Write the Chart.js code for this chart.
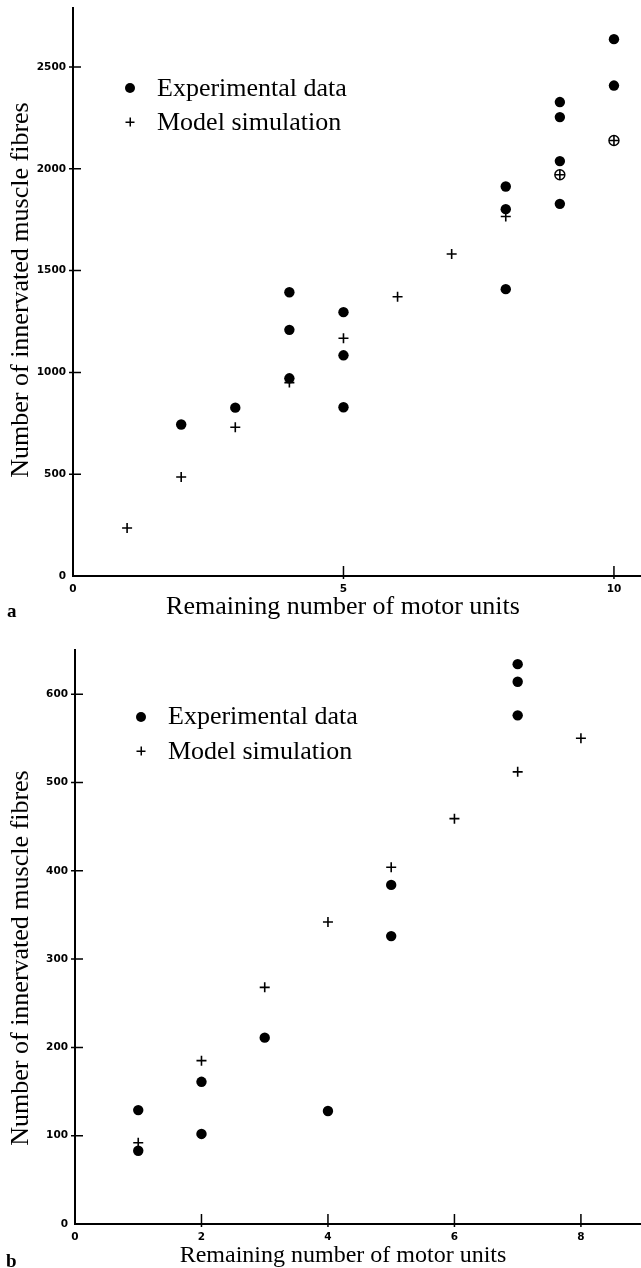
<!DOCTYPE html>
<html>
<head>
<meta charset="utf-8">
<title>Innervated muscle fibres vs remaining motor units</title>
<script src="https://cdn.jsdelivr.net/npm/chart.js@4.4.1/dist/chart.umd.min.js"></script>
<style>
  body { margin: 0; background: #fff; }
  #page { position: relative; width: 641px; height: 1268px; overflow: hidden; color: #000;
          font-family: "Liberation Serif", "Times New Roman", serif; }
  canvas { position: absolute; left: 0; }
  .txt { position: absolute; white-space: nowrap; font-size: 26px; line-height: 26px; }
  .xtitle { transform: translateX(-50%); }
  .ytitle { transform: translate(-50%, -50%) rotate(-90deg); }
  .panel { position: absolute; font-weight: bold; font-size: 19px; line-height: 19px; }
  .dot { position: absolute; width: 10px; height: 10px; border-radius: 50%; background: #000;
         transform: translate(-50%, -50%); }
  .plus { position: absolute; width: 9px; height: 9px; transform: translate(-50%, -50%);
          background: linear-gradient(#000, #000) center / 1.5px 100% no-repeat,
                      linear-gradient(#000, #000) center / 100% 1.5px no-repeat; }
</style>
</head>
<body>
<div id="page">
  <canvas id="chartA" width="641" height="628" style="top:0"></canvas>
  <canvas id="chartB" width="641" height="640" style="top:628px"></canvas>

  <!-- panel a -->
  <div class="dot" style="left:130px; top:88px"></div>
  <div class="txt" style="left:157px; top:75px">Experimental data</div>
  <div class="plus" style="left:130px; top:122px"></div>
  <div class="txt" style="left:157px; top:109px">Model simulation</div>
  <div class="txt ytitle" style="left:20px; top:290px">Number of innervated muscle fibres</div>
  <div class="txt xtitle" style="left:343px; top:593px">Remaining number of motor units</div>
  <div class="panel" style="left:7px; top:601px">a</div>

  <!-- panel b -->
  <div class="dot" style="left:141px; top:717px"></div>
  <div class="txt" style="left:168px; top:703px">Experimental data</div>
  <div class="plus" style="left:141px; top:751px"></div>
  <div class="txt" style="left:168px; top:738px">Model simulation</div>
  <div class="txt ytitle" style="left:20px; top:958px">Number of innervated muscle fibres</div>
  <div class="txt xtitle" style="left:343px; top:1242px; font-size:24px; line-height:24px">Remaining number of motor units</div>
  <div class="panel" style="left:6px; top:1251px">b</div>
</div>

<script>
// Panel a
const modelXA = [1, 2, 3, 4, 5, 6, 7, 8, 9, 10];
const modelYA = [236, 486, 731, 950, 1168, 1372, 1582, 1766, 1971, 2139];
const expXA = [2, 3, 4, 4, 4, 5, 5, 5, 8, 8, 8, 9, 9, 9, 9, 10, 10];
const expYA = [744, 827, 1394, 1209, 971, 1296, 1084, 829, 1913, 1802, 1409, 2328, 2254, 2038, 1828, 2637, 2409];
// experimental points that sit on a model point (printed as open circles)
const sharedXA = [9, 10];
const sharedYA = [1971, 2139];
const xTicksA = [0, 5, 10];
const yTicksA = [0, 500, 1000, 1500, 2000, 2500];

// Panel b
const modelXB = [1, 2, 3, 4, 5, 6, 7, 8];
const modelYB = [92, 185, 268, 342, 404, 459, 512, 550];
const expXB = [1, 1, 2, 2, 3, 4, 5, 5, 7, 7, 7];
const expYB = [129, 83, 161, 102, 211, 128, 384, 326, 634, 614, 576];
const xTicksB = [0, 2, 4, 6, 8];
const yTicksB = [0, 100, 200, 300, 400, 500, 600];

const toPoints = (xs, ys) => xs.map((x, i) => ({ x: x, y: ys[i] }));
const tickFont = { family: "'DejaVu Sans', sans-serif", weight: 'bold', size: 10.5 };

// tick marks that cross the axis lines
const crossTicks = {
  id: 'crossTicks',
  afterDraw(chart) {
    const { ctx, chartArea } = chart;
    const { x, y } = chart.scales;
    ctx.save();
    ctx.strokeStyle = '#000';
    ctx.lineWidth = 1.5;
    ctx.beginPath();
    x.ticks.forEach(t => {
      if (t.value === 0) return;
      const px = x.getPixelForValue(t.value);
      ctx.moveTo(px, chartArea.bottom + 3);
      ctx.lineTo(px, chartArea.bottom - 10);
    });
    y.ticks.forEach(t => {
      if (t.value === 0) return;
      const py = y.getPixelForValue(t.value);
      ctx.moveTo(chartArea.left - 4, py);
      ctx.lineTo(chartArea.left + 8, py);
    });
    ctx.stroke();
    ctx.restore();
  }
};

function makeChart(id, p) {
  return new Chart(document.getElementById(id), {
    type: 'scatter',
    data: {
      datasets: [
        { label: 'Model simulation', data: p.model, pointStyle: 'cross', pointRadius: 5,
          pointBorderColor: '#000', pointBorderWidth: 1.6, order: 0 },
        { label: 'Experimental data (on model point)', data: p.shared, pointStyle: 'circle', pointRadius: 5,
          pointBackgroundColor: '#fff', pointBorderColor: '#000', pointBorderWidth: 1.4, order: 1 },
        { label: 'Experimental data', data: p.exp, pointStyle: 'circle', pointRadius: 5.2,
          pointBackgroundColor: '#000', pointBorderColor: '#000', pointBorderWidth: 0, order: 2 }
      ]
    },
    options: {
      responsive: false,
      animation: false,
      events: [],
      layout: { autoPadding: false, padding: { top: p.padTop, left: 0, right: 0, bottom: 0 } },
      plugins: { legend: { display: false }, tooltip: { enabled: false } },
      scales: {
        x: {
          type: 'linear', min: 0, max: p.xMax,
          grid: { display: false, drawTicks: false },
          border: { display: true, color: '#000', width: 2 },
          ticks: { font: tickFont, color: '#000', padding: 7, callback: v => String(v) },
          afterBuildTicks: s => { s.ticks = p.xTicks.map(v => ({ value: v })); },
          afterFit: s => {
            s.height = p.xAxisH;
            s.paddingLeft = 0;
            s.paddingRight = 0;
          }
        },
        y: {
          type: 'linear', min: 0, max: p.yMax,
          grid: { display: false, drawTicks: false },
          border: { display: true, color: '#000', width: 2 },
          ticks: { font: tickFont, color: '#000', padding: 7, callback: v => String(v) },
          afterBuildTicks: s => { s.ticks = p.yTicks.map(v => ({ value: v })); },
          afterFit: s => {
            s.width = p.yAxisW;
            s.paddingTop = 0;
            s.paddingBottom = 0;
          }
        }
      }
    },
    plugins: [crossTicks]
  });
}

makeChart('chartA', {
  model: toPoints(modelXA, modelYA),
  exp: toPoints(expXA, expYA),
  shared: toPoints(sharedXA, sharedYA),
  xTicks: xTicksA, yTicks: yTicksA,
  xMax: 10.5, yMax: 2790,
  padTop: 8, xAxisH: 52, yAxisW: 73
});

makeChart('chartB', {
  model: toPoints(modelXB, modelYB),
  exp: toPoints(expXB, expYB),
  shared: [],
  xTicks: xTicksB, yTicks: yTicksB,
  xMax: 8.95, yMax: 650,
  padTop: 22, xAxisH: 44, yAxisW: 75
});
</script>
</body>
</html>
